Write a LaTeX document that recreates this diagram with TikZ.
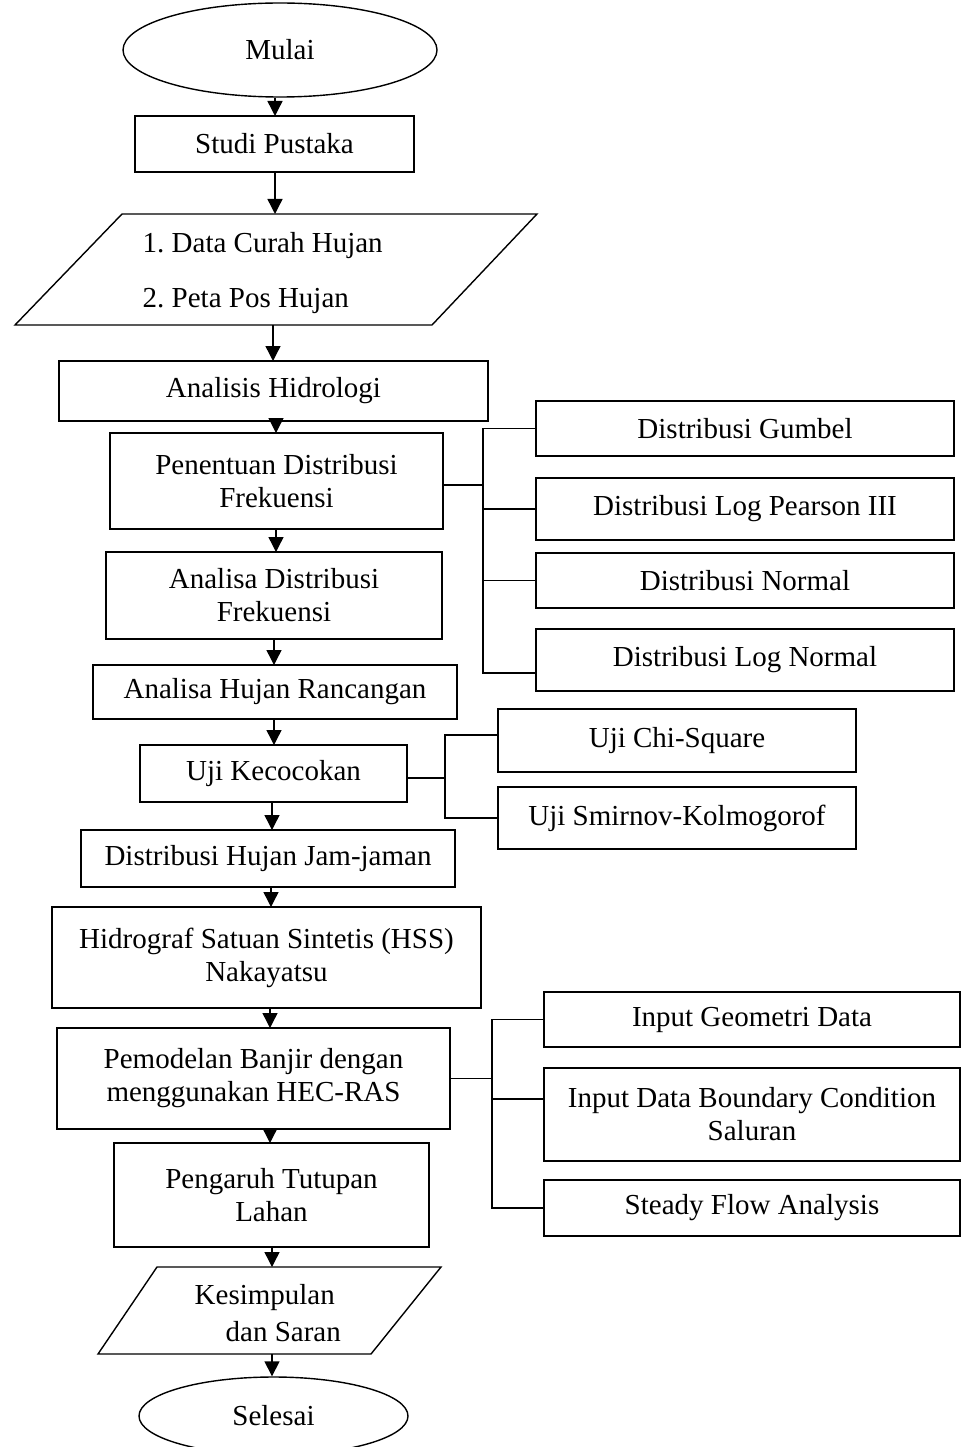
\documentclass[tikz,border=0pt]{standalone}
\usepackage{fontspec}
\setmainfont{Liberation Serif}
\usetikzlibrary{shapes.geometric,arrows.meta,calc}
\newcommand\mainfs{\fontsize{29}{33}\selectfont}
\newcommand\bx[6]{\node[box,minimum width={#4-#2},minimum height={#5-#3}] (#1) at ({(#2+#4)/2},{(#3+#5)/2}) {#6};}
\frenchspacing
\begin{document}
\begin{tikzpicture}[x=1pt,y=-1pt,line width=1.4pt,
  box/.style={draw,rectangle,inner sep=0pt,outer sep=0pt,align=center,font=\mainfs},
  ghost/.style={rectangle,inner sep=0pt,outer sep=0pt},
  ell/.style={draw,ellipse,inner sep=0pt,font=\mainfs},
  txt/.style={anchor=base west,inner sep=0pt,font=\mainfs},
  arr/.style={-{Triangle[length=15pt,width=15pt]}}]
\useasboundingbox (0,0) rectangle (961,1447);

% main column
\node[ell,minimum width=314pt,minimum height=94pt] (mulai) at (280,50) {Mulai};
\bx{studi}{135}{116}{414}{172}{Studi Pustaka}
\draw (122,214) -- (537,214) -- (432,325) -- (15,325) -- cycle;
\node[ghost,minimum width=522pt,minimum height=111pt] (data) at (276,269.5) {};
\node[txt] (d1) at (142,252) {1. Data Curah Hujan};
\node[txt] (d2) at (142,307) {2. Peta Pos Hujan};
\bx{anal}{59}{361}{488}{421}{Analisis Hidrologi}
\bx{pen}{110}{433}{443}{529}{Penentuan Distribusi\\Frekuensi}
\bx{ana}{106}{552}{442}{639}{Analisa Distribusi\\Frekuensi}
\bx{huj}{93}{665}{457}{719}{Analisa Hujan Rancangan}
\bx{uji}{140}{745}{407}{802}{Uji Kecocokan}
\bx{dhj}{81}{830}{455}{887}{Distribusi Hujan Jam-jaman}
\bx{hid}{52}{907}{481}{1008}{Hidrograf Satuan Sintetis (HSS)\\Nakayatsu}
\bx{pem}{57}{1028}{450}{1129}{Pemodelan Banjir dengan\\menggunakan HEC-RAS}
\bx{peng}{114}{1143}{429}{1247}{Pengaruh Tutupan\\Lahan}
\draw (157,1267) -- (441,1267) -- (371,1354) -- (98,1354) -- cycle;
\node[ghost,minimum width=343pt,minimum height=87pt] (kes) at (269.5,1310.5) {};
\node[txt] (k1) at (194,1304) {Kesimpulan};
\node[txt] (k2) at (225,1341) {dan Saran};
\node[ell,minimum width=269pt,minimum height=78pt] (sel) at (273.5,1416) {Selesai};

% side boxes
\bx{gum}{536}{401}{954}{456}{Distribusi Gumbel}
\bx{lp}{536}{478}{954}{540}{Distribusi Log Pearson III}
\bx{nor}{536}{553}{954}{608}{Distribusi Normal}
\bx{ln}{536}{629}{954}{691}{Distribusi Log Normal}
\bx{chi}{498}{709}{856}{772}{Uji Chi-Square}
\bx{smi}{498}{787}{856}{849}{Uji Smirnov-Kolmogorof}
\bx{geo}{544}{992}{960}{1047}{Input Geometri Data}
\bx{bnd}{544}{1068}{960}{1161}{Input Data Boundary Condition\\Saluran}
\bx{std}{544}{1180}{960}{1236}{Steady Flow Analysis}

% arrow columns
\coordinate (c275) at (275,0);
\coordinate (c273) at (273,0);
\coordinate (c276) at (276,0);
\coordinate (c274) at (274,0);
\coordinate (c272) at (272,0);
\coordinate (c271) at (271,0);
\coordinate (c270) at (270,0);

\draw[arr] (mulai.south -| c275) -- (studi.north -| c275);
\draw[arr] (studi.south -| c275) -- (data.north -| c275);
\draw[arr] (data.south -| c273) -- (anal.north -| c273);
\draw[arr] (anal.south -| c276) -- (pen.north -| c276);
\draw[arr] (pen.south -| c276) -- (ana.north -| c276);
\draw[arr] (ana.south -| c274) -- (huj.north -| c274);
\draw[arr] (huj.south -| c274) -- (uji.north -| c274);
\draw[arr] (uji.south -| c272) -- (dhj.north -| c272);
\draw[arr] (dhj.south -| c271) -- (hid.north -| c271);
\draw[arr] (hid.south -| c270) -- (pem.north -| c270);
\draw[arr] (pem.south -| c270) -- (peng.north -| c270);
\draw[arr] (peng.south -| c272) -- (kes.north -| c272);
\draw[arr] (kes.south -| c272) -- (sel.north -| c272);

% bracket 1
\coordinate (t1) at (483,0);
\coordinate (pene) at ([yshift=-4pt]pen.east);
\coordinate (lnw) at ([yshift=-13pt]ln.west);
\draw (pene) -- (pene -| t1);
\draw (gum.west) -- (gum.west -| t1) -- (lnw -| t1) -- (lnw);
\draw (lp.west -| t1) -- (lp.west);
\draw (nor.west -| t1) -- (nor.west);

% bracket 2
\coordinate (t2) at (445,0);
\coordinate (ujie) at ([yshift=-4.5pt]uji.east);
\coordinate (chiw) at ([yshift=5.5pt]chi.west);
\draw (ujie) -- (ujie -| t2);
\draw (chiw) -- (chiw -| t2) -- (smi.west -| t2) -- (smi.west);

% bracket 3
\coordinate (t3) at (492,0);
\coordinate (bndw) at ([yshift=15.5pt]bnd.west);
\draw (pem.east) -- (pem.east -| t3);
\draw (geo.west) -- (geo.west -| t3) -- (std.west -| t3) -- (std.west);
\draw (bndw -| t3) -- (bndw);
\end{tikzpicture}
\end{document}
